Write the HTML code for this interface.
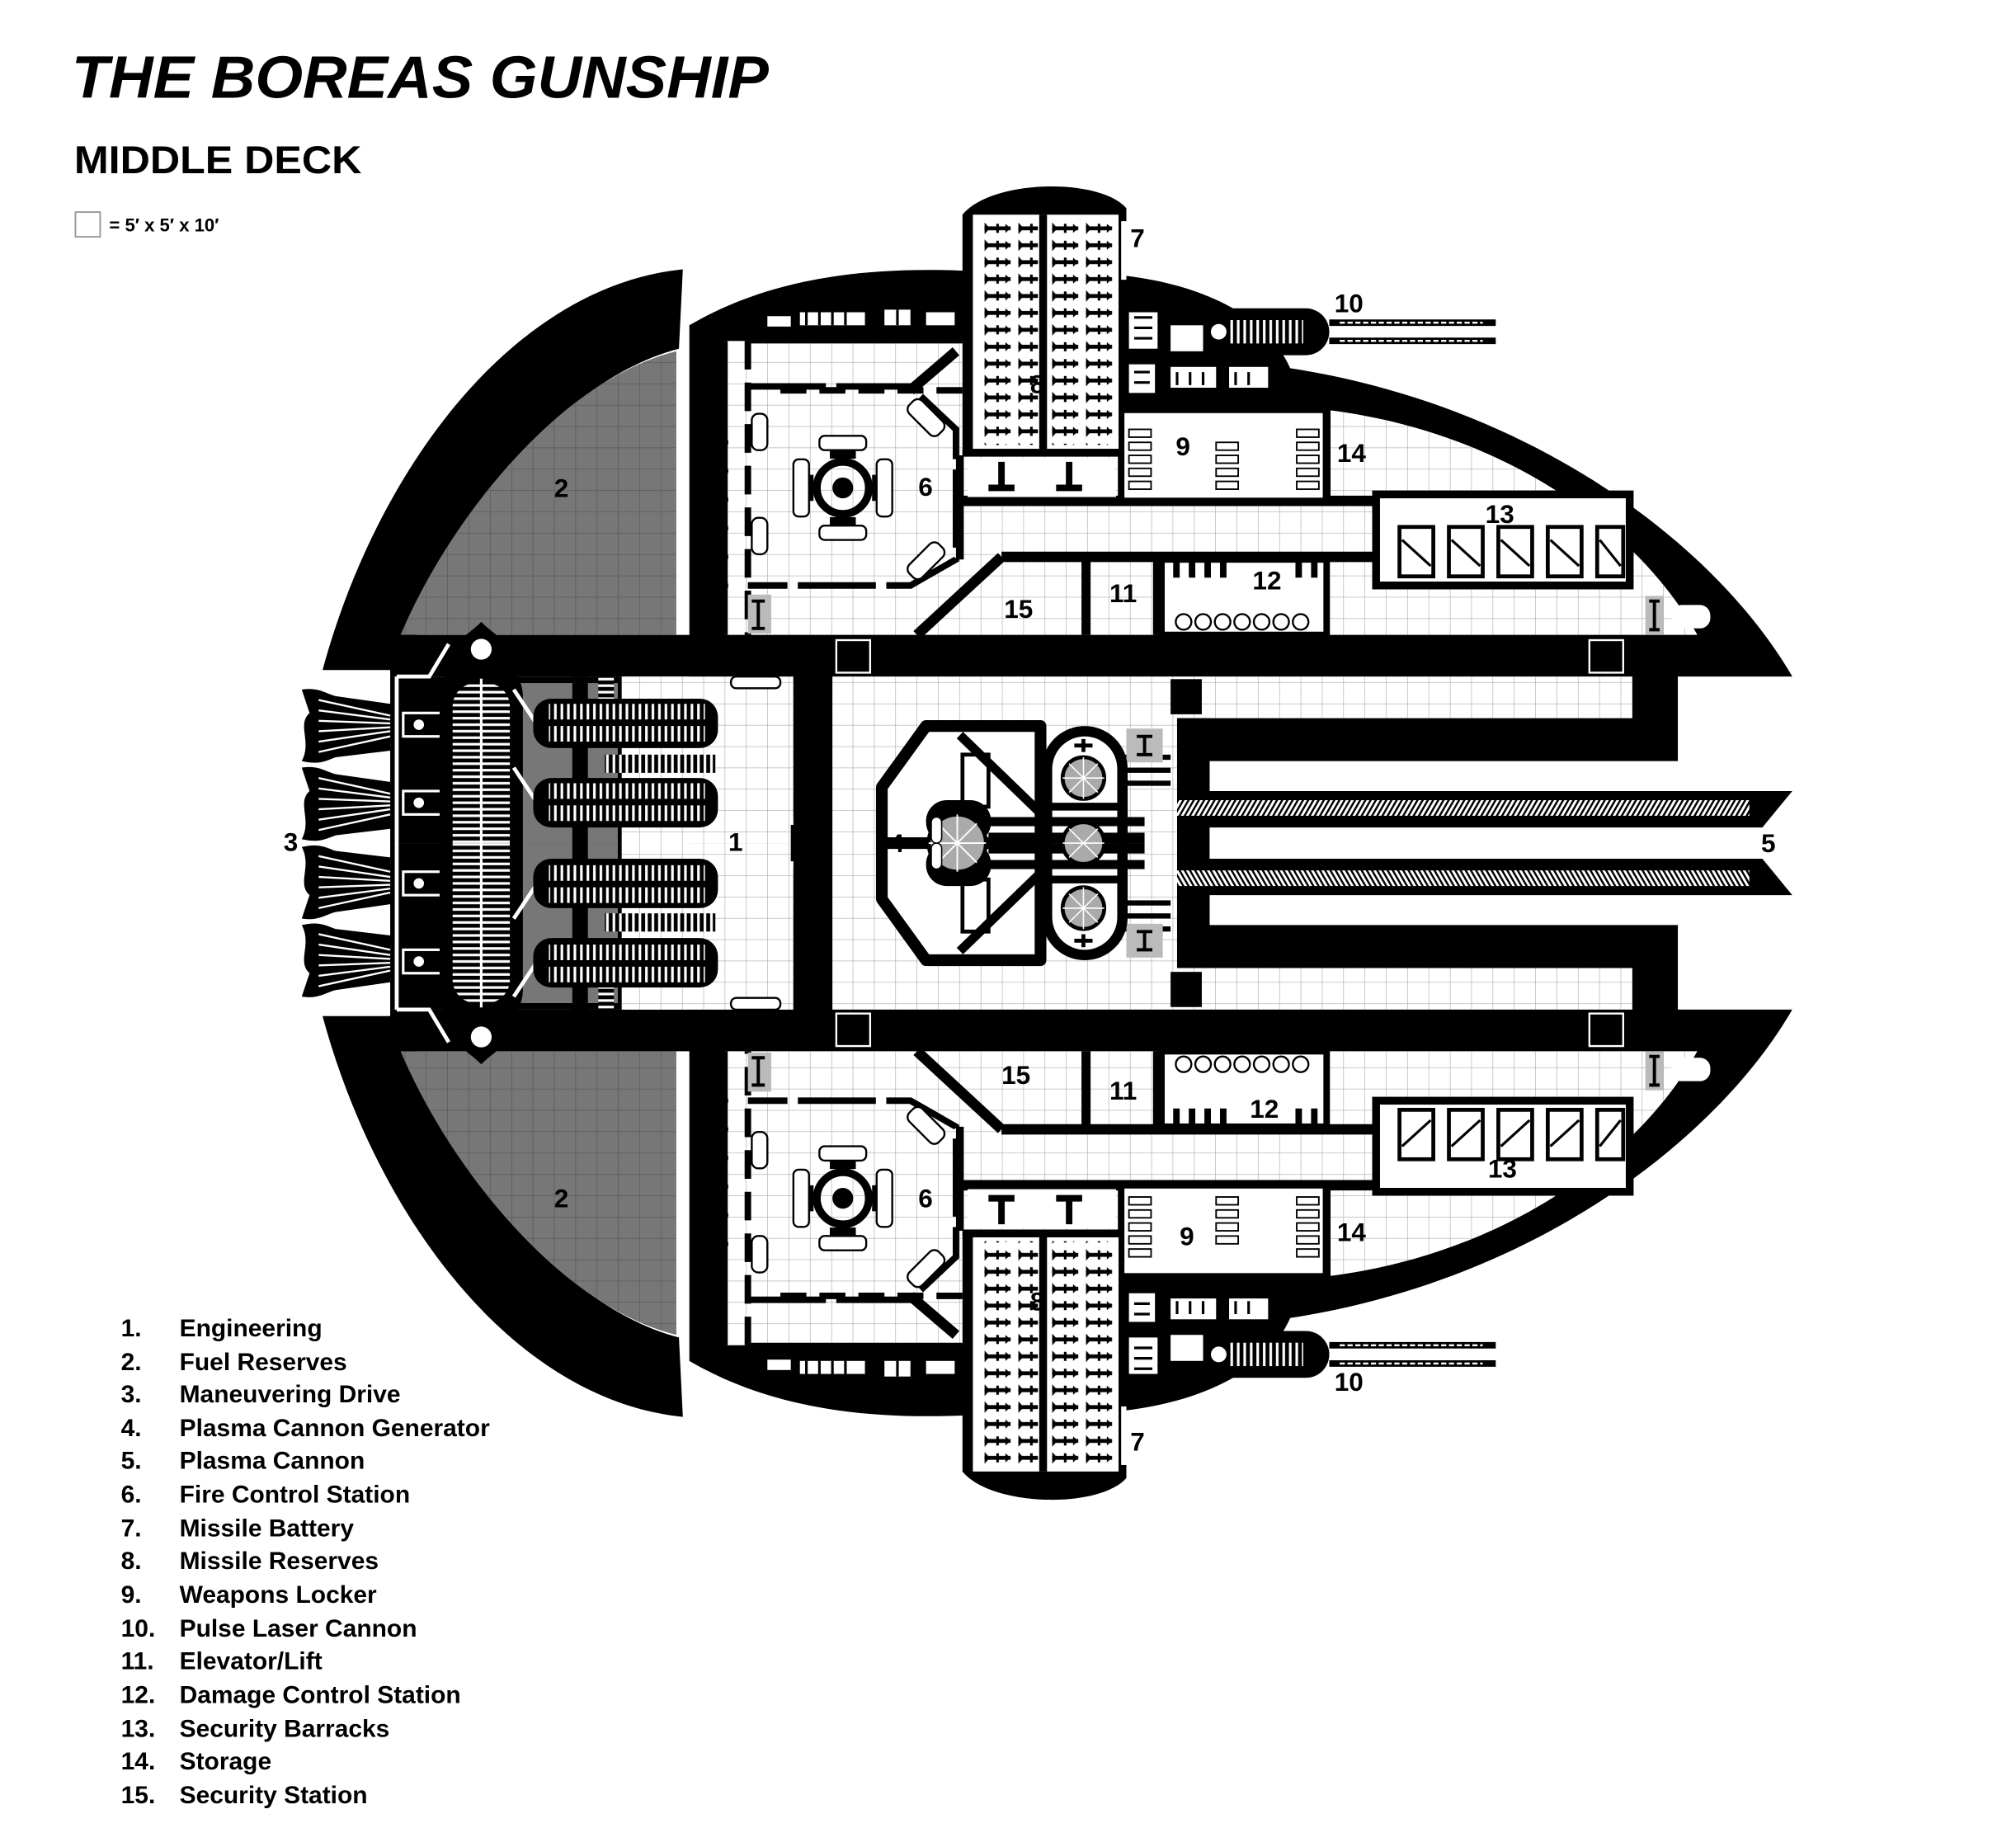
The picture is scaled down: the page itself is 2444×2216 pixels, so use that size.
<!DOCTYPE html>
<html><head><meta charset="utf-8"><style>
html,body{margin:0;padding:0;background:#fff;}
svg{display:block;}
text{font-family:"Liberation Sans",sans-serif;fill:#000;}
</style></head><body>
<svg width="2444" height="2216" viewBox="0 0 1550 1405" preserveAspectRatio="none" xmlns="http://www.w3.org/2000/svg">
<defs>
<clipPath id="top"><rect x="0" y="0" width="1550" height="648"/></clipPath>
<pattern id="g" width="16.4" height="16.4" patternUnits="userSpaceOnUse"><path d="M16.4 0V16.4H0" fill="none" stroke="#aaa" stroke-width="0.8"/></pattern>
<pattern id="gd" width="16.4" height="16.4" patternUnits="userSpaceOnUse"><path d="M16.4 0V16.4H0" fill="none" stroke="#555" stroke-width="0.8"/></pattern>
<pattern id="hat" width="4" height="10" patternUnits="userSpaceOnUse" patternTransform="skewX(-30)"><rect width="4" height="10" fill="#fff"/><rect width="1.8" height="10" fill="#000"/></pattern>
<pattern id="tick" width="5" height="40" patternUnits="userSpaceOnUse"><rect width="5" height="40" fill="#000"/><rect x="1" y="0" width="2" height="40" fill="#fff"/></pattern>
<pattern id="hs" width="10" height="5" patternUnits="userSpaceOnUse"><rect width="10" height="5" fill="#000"/><rect x="0" y="1" width="10" height="2" fill="#fff"/></pattern>
<pattern id="mis" width="26" height="13" patternUnits="userSpaceOnUse"><rect width="26" height="13" fill="#fff"/><rect x="3" y="5" width="20" height="3" fill="#000"/><path d="M3 2L7 6.5L3 11Z M23 6.5L19 3V10Z" fill="#000"/><rect x="12" y="3" width="2" height="7" fill="#000"/></pattern>
<g id="half" clip-path="url(#top)">
 <path d="M525 207 C395 220 290 360 248 515 L312 515 C345 400 430 292 522 268 Z" fill="#000"/>
 <path d="M520 270 C430 292 345 400 308 488 L520 488 Z" fill="#777"/>
 <path d="M520 270 C430 292 345 400 308 488 L520 488 Z" fill="url(#gd)"/>
 <path d="M530 250 C590 215 660 205 740 208 L740 165 C762 138 845 136 866 160 L866 212 C930 220 975 245 992 283 C1180 312 1320 420 1378 520 L1290 520 L1290 585 L930 585 L930 648 L530 648 Z" fill="#000"/>
 <path d="M880 608 L1378 608 L1355 636 L880 636 Z" fill="#000"/>
 <rect x="880" y="615" width="465" height="12" fill="url(#hat)"/>
 <rect x="300" y="488" width="340" height="32" fill="#000"/>
 <rect x="300" y="520" width="180" height="128" fill="#000"/>
 <rect x="400" y="525" width="75" height="123" fill="#777"/>
 <rect x="478" y="520" width="132" height="128" fill="#fff"/>
 <rect x="478" y="520" width="132" height="128" fill="url(#g)"/>
 <rect x="440" y="520" width="12" height="128" fill="#000"/>
 <rect x="460" y="520" width="12" height="25" fill="url(#hs)"/>
 <rect x="610" y="490" width="30" height="138" fill="#000"/>
 <rect x="608" y="634" width="28" height="14" fill="#000"/>
 <rect x="562" y="520" width="38" height="9" rx="4" fill="#fff" stroke="#000" stroke-width="1.5"/>
 <path d="M232 530 C245 528 250 533 258 535 L300 541 L300 577 L258 582 C250 585 245 588 232 585 C240 570 228 557 238 548 Z" fill="#000"/>
 <path d="M245 538 L300 550 M245 546 L300 553 M245 554 L300 556 M245 562 L300 559 M245 570 L300 562 M245 578 L300 566" stroke="#fff" stroke-width="1.5"/>
 <path d="M232 590 C245 588 250 593 258 595 L300 601 L300 637 L258 642 C250 645 245 648 232 645 C240 630 228 617 238 608 Z" fill="#000"/>
 <path d="M245 598 L300 610 M245 606 L300 613 M245 614 L300 616 M245 622 L300 619 M245 630 L300 622 M245 638 L300 626" stroke="#fff" stroke-width="1.5"/>
 <path d="M305 520 V648 M305 520 H330 L345 495" stroke="#fff" stroke-width="3" fill="none"/>
 <circle cx="322" cy="557" r="5" fill="#fff" stroke="#000" stroke-width="2"/>
 <circle cx="322" cy="617" r="5" fill="#fff" stroke="#000" stroke-width="2"/>
 <rect x="310" y="548" width="30" height="18" fill="none" stroke="#fff" stroke-width="2"/>
 <rect x="310" y="608" width="30" height="18" fill="none" stroke="#fff" stroke-width="2"/>
 <rect x="338" y="505" width="64" height="286" rx="30" fill="#000"/>
 <rect x="348" y="525" width="44" height="246" rx="18" fill="url(#hs)"/>
 <line x1="370" y1="500" x2="370" y2="648" stroke="#fff" stroke-width="2"/>
 <path d="M370 478 C380 488 388 490 388 500 C388 512 378 516 370 522 C362 516 352 512 352 500 C352 490 360 488 370 478Z" fill="#000"/>
 <circle cx="370" cy="499" r="8" fill="#fff"/>
 <path d="M395 530 L415 560 M395 590 L415 620" stroke="#fff" stroke-width="3"/>
 <rect x="410" y="537" width="142" height="38" rx="14" fill="#000"/>
 <rect x="422" y="541" width="120" height="12" fill="url(#tick)"/>
 <rect x="422" y="558" width="120" height="12" fill="url(#tick)"/>
 <rect x="410" y="598" width="142" height="38" rx="14" fill="#000"/>
 <rect x="422" y="602" width="120" height="12" fill="url(#tick)"/>
 <rect x="422" y="619" width="120" height="12" fill="url(#tick)"/>
 <rect x="465" y="580" width="85" height="14" fill="url(#tick)"/>
 <path d="M640 520 L1255 520 L1255 552 L905 552 L905 648 L640 648 Z" fill="#fff"/>
 <path d="M640 520 L1255 520 L1255 552 L905 552 L905 648 L640 648 Z" fill="url(#g)"/>
 <rect x="643" y="492" width="26" height="25" fill="#000" stroke="#fff" stroke-width="1.5"/>
 <rect x="1222" y="492" width="26" height="25" fill="#000" stroke="#fff" stroke-width="1.5"/>
 <rect x="900" y="522" width="24" height="27" fill="#000"/>
 <rect x="905" y="552" width="25" height="56" fill="#000"/>
 <rect x="865" y="590" width="35" height="4" fill="#000"/><rect x="865" y="600" width="35" height="4" fill="#000"/><rect x="865" y="580" width="35" height="4" fill="#000"/>
 <rect x="866" y="560" width="28" height="26" fill="#bbb"/>
 <path d="M874 566 H886 M880 566 V580 M874 580 H886" stroke="#000" stroke-width="2.5"/>
 <path d="M712 558 L800 558 L800 648 L678 648 L678 605 Z" fill="#fff" stroke="#000" stroke-width="9" stroke-linejoin="round"/>
 <path d="M738 565 L800 625" stroke="#000" stroke-width="7"/>
 <rect x="805" y="562" width="58" height="172" rx="29" fill="#fff" stroke="#000" stroke-width="8"/>
 <line x1="805" y1="620" x2="863" y2="620" stroke="#000" stroke-width="6"/>
 <rect x="712" y="615" width="50" height="33" rx="16" fill="#000"/>
 <rect x="760" y="628" width="120" height="7" fill="#000"/>
 <rect x="760" y="640" width="120" height="8" fill="#000"/>
 <rect x="740" y="580" width="20" height="40" fill="none" stroke="#000" stroke-width="3"/>
 <circle cx="833" cy="598" r="16" fill="#aaa" stroke="#000" stroke-width="3"/>
 <path d="M817 598H849M833 582V614M822 587L844 609M844 587L822 609" stroke="#fff" stroke-width="1"/>
 <circle cx="833" cy="648" r="16" fill="#aaa" stroke="#000" stroke-width="3"/>
 <path d="M817 648H849M822 637L844 659M844 637L822 659" stroke="#fff" stroke-width="1"/>
 <circle cx="736" cy="648" r="22" fill="#aaa" stroke="#000" stroke-width="3"/>
 <path d="M714 648H758M721 633L751 663M751 633L721 663M736 626V648" stroke="#fff" stroke-width="1.2"/>
 <rect x="716" y="628" width="8" height="20" rx="4" fill="#fff" stroke="#000"/>
 <path d="M833 568V578M826 573H840" stroke="#000" stroke-width="3"/>
 <path d="M557 262 L740 262 L740 350 L862 350 L862 315 L1020 315 C1160 332 1262 410 1305 488 L557 488 Z" fill="#fff"/>
 <path d="M557 262 L740 262 L740 350 L862 350 L862 315 L1020 315 C1160 332 1262 410 1305 488 L557 488 Z" fill="url(#g)"/>
 <line x1="557" y1="262" x2="557" y2="488" stroke="#000" stroke-width="5"/>
 <line x1="575" y1="262" x2="575" y2="488" stroke="#000" stroke-width="5" stroke-dasharray="22 10"/>
 <line x1="575" y1="262" x2="740" y2="262" stroke="#000" stroke-width="4"/>
 <path d="M575 297 H700 L735 330 V430 L700 450 H575" fill="none" stroke="#000" stroke-width="5" stroke-dasharray="60 8"/>
 <path d="M600 300 L740 300" stroke="#000" stroke-width="5" stroke-dasharray="20 10"/>
 <path d="M735 385 H1058 M770 428 H1058 M770 428 L705 488" stroke="#000" stroke-width="8" fill="none"/>
 <path d="M738 350 V430" stroke="#000" stroke-width="6"/>
 <path d="M835 428 V488 M890 428 V488" stroke="#000" stroke-width="7"/>
 <rect x="893" y="430" width="127" height="58" fill="#fff" stroke="#000" stroke-width="5"/>
 <g fill="none" stroke="#000" stroke-width="1.5"><circle cx="910" cy="478" r="6"/><circle cx="925" cy="478" r="6"/><circle cx="940" cy="478" r="6"/><circle cx="955" cy="478" r="6"/><circle cx="970" cy="478" r="6"/><circle cx="985" cy="478" r="6"/><circle cx="1000" cy="478" r="6"/></g>
 <g fill="#000"><path d="M902 432h5v12h-5zM914 432h5v12h-5zM926 432h5v12h-5zM938 432h5v12h-5zM996 432h5v12h-5zM1008 432h5v12h-5z"/></g>
 <rect x="862" y="315" width="158" height="70" fill="#fff" stroke="#000" stroke-width="5"/>
 <g fill="#fff" stroke="#000" stroke-width="1.2">
  <rect x="868" y="330" width="17" height="6"/><rect x="868" y="340" width="17" height="6"/><rect x="868" y="350" width="17" height="6"/><rect x="868" y="360" width="17" height="6"/><rect x="868" y="370" width="17" height="6"/>
  <rect x="935" y="340" width="17" height="6"/><rect x="935" y="350" width="17" height="6"/><rect x="935" y="360" width="17" height="6"/><rect x="935" y="370" width="17" height="6"/>
  <rect x="997" y="330" width="17" height="6"/><rect x="997" y="340" width="17" height="6"/><rect x="997" y="350" width="17" height="6"/><rect x="997" y="360" width="17" height="6"/><rect x="997" y="370" width="17" height="6"/>
 </g>
 <path d="M1020 315 V385 M1058 378 V450" stroke="#000" stroke-width="6"/>
 <rect x="1058" y="380" width="195" height="70" fill="#fff" stroke="#000" stroke-width="6"/>
 <g fill="#fff" stroke="#000" stroke-width="3">
  <rect x="1076" y="405" width="26" height="38"/><rect x="1114" y="405" width="26" height="38"/><rect x="1152" y="405" width="26" height="38"/><rect x="1190" y="405" width="26" height="38"/><rect x="1228" y="405" width="20" height="38"/>
 </g>
 <path d="M1078 415L1100 435M1116 415L1138 435M1154 415L1176 435M1192 415L1214 435M1230 415L1246 435" stroke="#000" stroke-width="2"/>
 <rect x="1265" y="458" width="14" height="30" fill="#bbb"/>
 <path d="M1268 462H1276M1272 462V484M1268 484H1276" stroke="#000" stroke-width="2.5"/>
 <rect x="1285" y="465" width="30" height="18" rx="8" fill="#fff"/>
 <rect x="538" y="330" width="12" height="125" fill="#000"/>
 <g fill="#000"><ellipse cx="549" cy="340" rx="11" ry="7"/><ellipse cx="549" cy="362" rx="11" ry="7"/><ellipse cx="549" cy="384" rx="11" ry="7"/><ellipse cx="549" cy="406" rx="11" ry="7"/><ellipse cx="549" cy="428" rx="11" ry="7"/><ellipse cx="549" cy="450" rx="11" ry="7"/></g>
 <rect x="575" y="457" width="18" height="30" fill="#bbb"/>
 <path d="M578 462H588M583 462V483M578 483H588" stroke="#000" stroke-width="2.5"/>
 <g transform="translate(648 375)">
  <circle r="20" fill="none" stroke="#000" stroke-width="6"/><circle r="8" fill="#000"/>
  <path d="M-26 -10V10M26 -10V10M-10 -26H10M-10 26H10" stroke="#000" stroke-width="7"/>
  <rect x="-38" y="-22" width="12" height="44" rx="4" fill="#fff" stroke="#000" stroke-width="1.5"/>
  <rect x="26" y="-22" width="12" height="44" rx="4" fill="#fff" stroke="#000" stroke-width="1.5"/>
  <rect x="-18" y="-40" width="36" height="11" rx="4" fill="#fff" stroke="#000" stroke-width="1.5"/>
  <rect x="-18" y="29" width="36" height="11" rx="4" fill="#fff" stroke="#000" stroke-width="1.5"/>
 </g>
 <rect x="578" y="398" width="12" height="28" rx="5" fill="#fff" stroke="#000" stroke-width="1.5"/>
 <rect x="578" y="318" width="12" height="28" rx="5" fill="#fff" stroke="#000" stroke-width="1.5"/>
 <rect x="705" y="415" width="14" height="32" rx="5" transform="rotate(45 712 431)" fill="#fff" stroke="#000" stroke-width="1.5"/>
 <rect x="705" y="305" width="14" height="32" rx="5" transform="rotate(-45 712 321)" fill="#fff" stroke="#000" stroke-width="1.5"/>
 <path d="M700 300 L735 270" stroke="#000" stroke-width="8"/>
 <g fill="#fff"><rect x="615" y="240" width="50" height="10"/><rect x="680" y="238" width="20" height="12"/><rect x="712" y="240" width="22" height="10"/><rect x="590" y="243" width="18" height="8"/></g>
 <path d="M620 240v10M630 240v10M640 240v10M650 240v10M690 238v12" stroke="#000" stroke-width="2"/>
 <rect x="748" y="165" width="112" height="180" fill="#fff"/>
 <rect x="752" y="170" width="46" height="172" fill="url(#mis)"/>
 <rect x="806" y="170" width="50" height="172" fill="url(#mis)"/>
 <rect x="799" y="165" width="6" height="180" fill="#000"/>
 <rect x="740" y="345" width="122" height="6" fill="#000"/>
 <rect x="744" y="352" width="114" height="30" fill="#fff"/>
 <path d="M770 355V375M760 375H780M822 355V375M812 375H832" stroke="#000" stroke-width="5"/>
 <rect x="862" y="170" width="4" height="45" fill="#fff"/>
 <rect x="930" y="237" width="92" height="36" rx="18" fill="#000"/>
 <rect x="944" y="246" width="58" height="18" fill="url(#tick)"/>
 <circle cx="937" cy="255" r="6" fill="#fff"/>
 <path d="M1022 248H1150M1022 262H1150" stroke="#000" stroke-width="5"/>
 <path d="M1030 248H1140M1030 262H1140" stroke="#fff" stroke-width="1.5" stroke-dasharray="4 2"/>
 <g fill="#fff"><rect x="868" y="240" width="22" height="28"/><rect x="900" y="250" width="25" height="20"/><rect x="868" y="280" width="20" height="22"/><rect x="900" y="282" width="35" height="16"/><rect x="945" y="282" width="30" height="16"/></g>
 <path d="M872 244h14M872 252h14M872 260h14M872 286h12M872 294h12M905 286v10M915 286v10M925 286v10M950 286v10M960 286v10" stroke="#000" stroke-width="2"/>
</g>
</defs>
<use href="#half"/>
<use href="#half" transform="matrix(1 0 0 -1 0 1296)"/>

<text x="55" y="75" font-size="46" font-weight="bold" font-style="italic" textLength="536" lengthAdjust="spacingAndGlyphs">THE BOREAS GUNSHIP</text>
<text x="57" y="133" font-size="30" font-weight="bold" textLength="221" lengthAdjust="spacingAndGlyphs">MIDDLE DECK</text>
<rect x="58" y="163" width="19" height="19" fill="#fff" stroke="#999" stroke-width="1.2"/>
<text x="84" y="178" font-size="14" font-weight="bold">= 5′ x 5′ x 10′</text>

<g font-size="20" font-weight="bold">
<text x="426" y="382">2</text><text x="426" y="928">2</text>
<text x="218" y="654">3</text><text x="560" y="654">1</text><text x="684" y="655">4</text><text x="1354" y="655">5</text>
<text x="706" y="381">6</text><text x="706" y="928">6</text>
<text x="869" y="190">7</text><text x="869" y="1115">7</text>
<text x="792" y="302">8</text><text x="792" y="1007">8</text>
<text x="904" y="350">9</text><text x="907" y="957">9</text>
<text x="1026" y="240">10</text><text x="1026" y="1069">10</text>
<text x="853" y="463">11</text><text x="853" y="845">11</text>
<text x="963" y="453">12</text><text x="961" y="859">12</text>
<text x="1142" y="402">13</text><text x="1144" y="905">13</text>
<text x="1028" y="355">14</text><text x="1028" y="954">14</text>
<text x="772" y="475">15</text><text x="770" y="833">15</text>
</g>

<g font-size="19" font-weight="bold">
<text x="93" y="1027">1.</text><text x="138" y="1027">Engineering</text>
<text x="93" y="1053">2.</text><text x="138" y="1053">Fuel Reserves</text>
<text x="93" y="1078">3.</text><text x="138" y="1078">Maneuvering Drive</text>
<text x="93" y="1104">4.</text><text x="138" y="1104">Plasma Cannon Generator</text>
<text x="93" y="1129">5.</text><text x="138" y="1129">Plasma Cannon</text>
<text x="93" y="1155">6.</text><text x="138" y="1155">Fire Control Station</text>
<text x="93" y="1181">7.</text><text x="138" y="1181">Missile Battery</text>
<text x="93" y="1206">8.</text><text x="138" y="1206">Missile Reserves</text>
<text x="93" y="1232">9.</text><text x="138" y="1232">Weapons Locker</text>
<text x="93" y="1258">10.</text><text x="138" y="1258">Pulse Laser Cannon</text>
<text x="93" y="1283">11.</text><text x="138" y="1283">Elevator/Lift</text>
<text x="93" y="1309">12.</text><text x="138" y="1309">Damage Control Station</text>
<text x="93" y="1335">13.</text><text x="138" y="1335">Security Barracks</text>
<text x="93" y="1360">14.</text><text x="138" y="1360">Storage</text>
<text x="93" y="1386">15.</text><text x="138" y="1386">Security Station</text>
</g>
</svg>
</body></html>
